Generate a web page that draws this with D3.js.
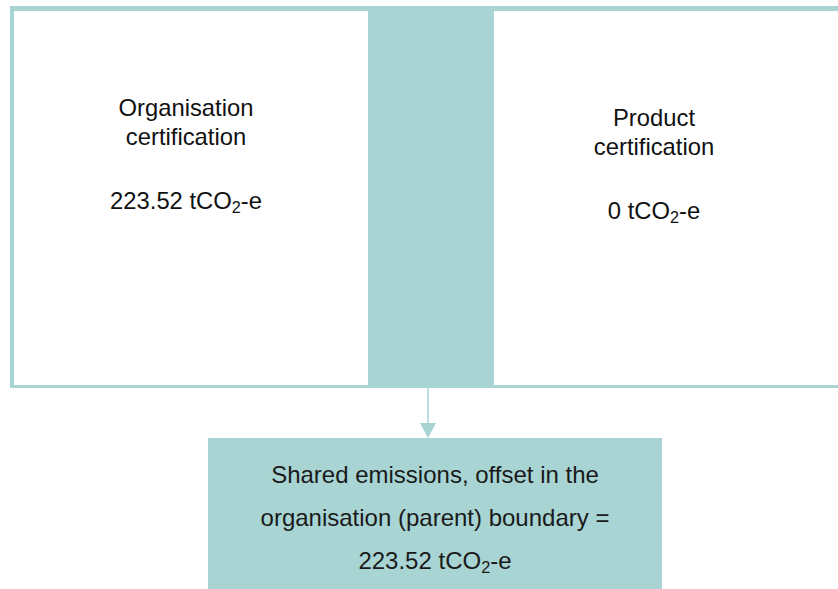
<!DOCTYPE html>
<html>
<head>
<meta charset="utf-8">
<script src="https://cdn.jsdelivr.net/npm/d3@7"></script>
<style>
  body { margin: 0; background: #fff; }
  svg { display: block; font-family: "Liberation Sans", Arial, sans-serif; }
</style>
</head>
<body>
<div id="chart"></div>
<script>
// certification boundaries and their emissions
var certNames = ["Organisation", "Product"];
var certTitles = [["Organisation", "certification"], ["Product", "certification"]];
var certValues = [223.52, 0];
var sharedLines = ["Shared emissions, offset in the", "organisation (parent) boundary ="];
var sharedValue = 223.52;
var unitParts = ["tCO", "2", "-e"];

var width = 838, height = 589;
var teal = "#a8d4d4";

var svg = d3.select("#chart")
    .append("svg")
    .attr("width", width)
    .attr("height", height);

// text centres and title baselines for each certification box
var x = d3.scaleOrdinal().domain(certNames).range([186, 654]);
var titleY = d3.scaleOrdinal().domain(certNames).range([116, 126]);

// outer frame, teal shared column shows through between the boxes
svg.append("rect")
    .attr("x", 10).attr("y", 6)
    .attr("width", 850).attr("height", 382)
    .attr("fill", teal);

var boxes = [
    { name: "Organisation", x0: 14, x1: 368 },
    { name: "Product", x0: 494, x1: 860 }
];
svg.selectAll("rect.box")
    .data(boxes)
    .enter()
    .append("rect")
    .attr("class", "box")
    .attr("x", function(d) { return d.x0; })
    .attr("y", 11)
    .attr("width", function(d) { return d.x1 - d.x0; })
    .attr("height", 374)
    .attr("fill", "#fff");

function addValue(sel, v) {
    sel.append("tspan").text(v + " " + unitParts[0]);
    sel.append("tspan").text(unitParts[1])
        .attr("font-size", "0.68em")
        .attr("dy", 4);
    sel.append("tspan").text(unitParts[2])
        .attr("dy", -4);
}

var labels = svg.selectAll("g.cert")
    .data(certNames)
    .enter()
    .append("g")
    .attr("class", "cert")
    .attr("transform", function(d) { return "translate(" + x(d) + "," + titleY(d) + ")"; })
    .attr("text-anchor", "middle")
    .attr("font-size", 23.8)
    .attr("fill", "#111");

labels.each(function(d, i) {
    var g = d3.select(this);
    certTitles[i].forEach(function(t, j) {
        g.append("text").attr("y", j * 29).text(t);
    });
    g.append("text").attr("y", 93).call(addValue, certValues[i]);
});

// arrow down to the shared box
svg.append("line")
    .attr("x1", 428).attr("x2", 428)
    .attr("y1", 388).attr("y2", 424)
    .attr("stroke", teal)
    .attr("stroke-width", 1.5);
svg.append("path")
    .attr("d", d3.line()([[420, 423], [436, 423], [428, 438]]) + "Z")
    .attr("fill", teal);

// shared emissions box
svg.append("rect")
    .attr("x", 208).attr("y", 438)
    .attr("width", 454).attr("height", 151)
    .attr("fill", teal);

var shared = svg.append("g")
    .attr("text-anchor", "middle")
    .attr("font-size", 24)
    .attr("fill", "#1a1a1a");

sharedLines.forEach(function(t, i) {
    shared.append("text")
        .attr("x", 435)
        .attr("y", 483 + i * 43)
        .text(t);
});
shared.append("text")
    .attr("x", 435)
    .attr("y", 569)
    .call(addValue, sharedValue);
</script>
</body>
</html>
